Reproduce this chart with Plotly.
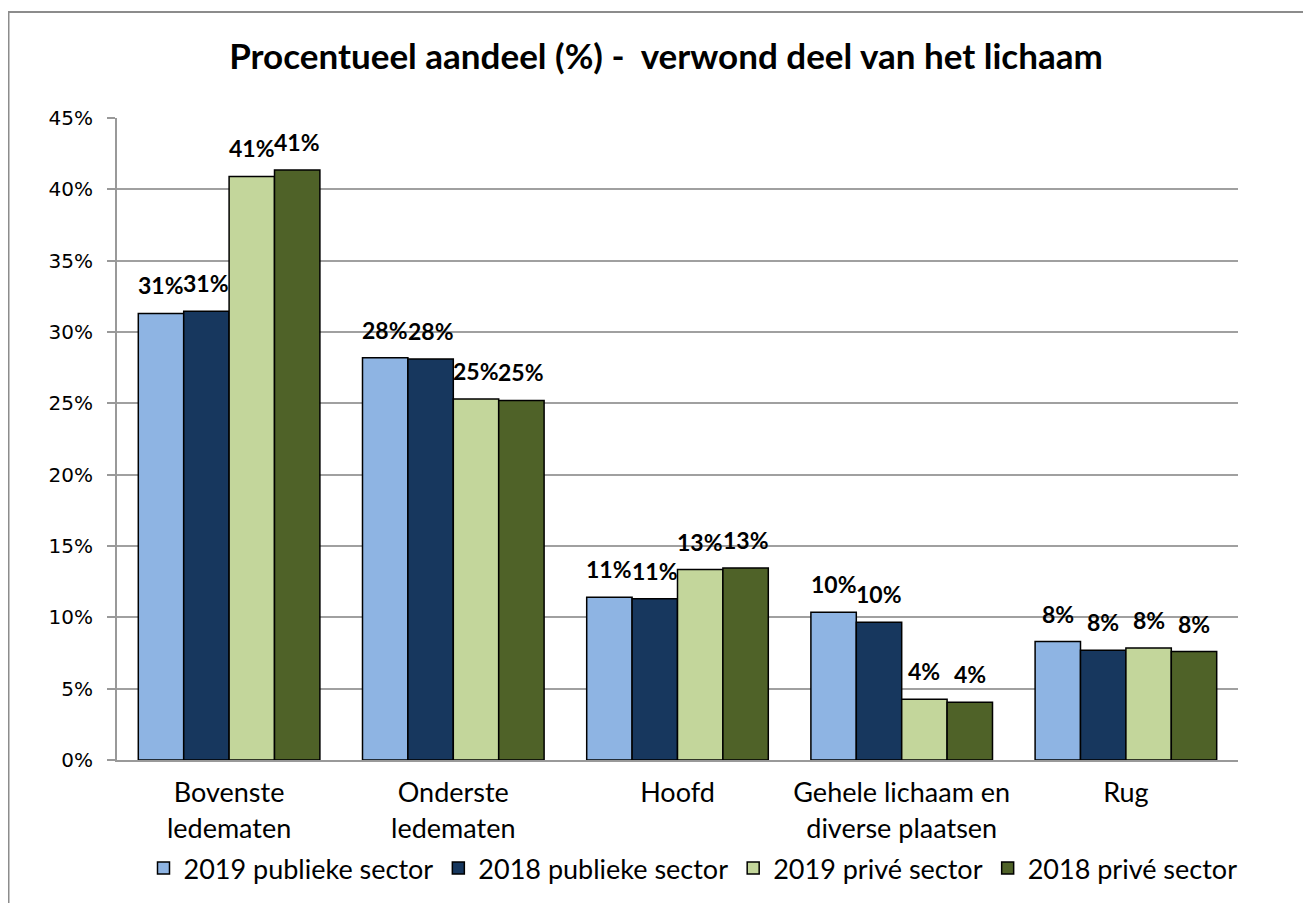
import plotly.graph_objects as go

categories = ["Bovenste<br>ledematen", "Onderste<br>ledematen", "Hoofd",
              "Gehele lichaam en<br>diverse plaatsen", "Rug"]
series_names = ["2019 publieke sector", "2018 publieke sector",
                "2019 privé sector", "2018 privé sector"]
pub_2019 = [31.3, 28.2, 11.4, 10.35, 8.3]
pub_2018 = [31.45, 28.1, 11.3, 9.65, 7.7]
priv_2019 = [40.9, 25.3, 13.35, 4.25, 7.85]
priv_2018 = [41.35, 25.2, 13.45, 4.05, 7.6]
colors = ["#8EB4E3", "#17375E", "#C3D69B", "#4F6228"]
tick_vals = [0, 5, 10, 15, 20, 25, 30, 35, 40, 45]
tick_text = ["0%", "5%", "10%", "15%", "20%", "25%", "30%", "35%", "40%", "45%"]

FONT = "Lato, Open Sans, sans-serif"

# page has 8px body margin; figure coords = page coords - 8
W, H = 1303, 895
L, T = 109, 110
PR, PB = 1230, 752
R, B = W - PR, H - PB
pw, ph = PR - L, PB - T
BARGAP = 0.19

series = [pub_2019, pub_2018, priv_2019, priv_2018]
fig = go.Figure()
for name, vals, col in zip(series_names, series, colors):
    fig.add_trace(go.Bar(
        name=name, x=categories, y=vals,
        marker=dict(color=col, line=dict(color="#000000", width=1.5)),
    ))

# data labels above each bar (offset within the group)
n = len(series)
cat_px = pw / len(categories)
bar_px = cat_px * (1 - BARGAP) / n
annotations = []
for i, vals in enumerate(series):
    shift = (i - (n - 1) / 2) * bar_px
    for c, v in zip(categories, vals):
        annotations.append(dict(
            x=c, y=v, xref="x", yref="y", text=f"<b>{round(v):d}%</b>",
            showarrow=False, xshift=shift, yshift=12, yanchor="bottom",
            font=dict(family=FONT, size=23, color="#000000"),
        ))

fig.update_layout(
    width=W, height=H,
    margin=dict(l=L, r=R, t=T, b=B, autoexpand=False),
    paper_bgcolor="white", plot_bgcolor="white",
    barmode="group", bargap=BARGAP, bargroupgap=0,
    title=dict(text="<b>Procentueel aandeel (%) -  verwond deel van het lichaam</b>",
               x=(666 - 8 - L) / pw, xanchor="center", xref="paper", y=1 - 49 / H, yanchor="middle",
               font=dict(family=FONT, size=35, color="#000000")),
    font=dict(family=FONT, color="#000000"),
    legend=dict(orientation="h", x=(693 - 8 - L) / pw, xanchor="center", y=(PB - 836) / ph, yanchor="top",
                font=dict(family=FONT, size=27, color="#000000"),
                traceorder="normal", itemwidth=30, tracegroupgap=0),
    showlegend=True,
    annotations=annotations,
)
fig.update_xaxes(showline=True, linecolor="#999999", linewidth=2, showgrid=False,
                 ticks="", tickfont=dict(family=FONT, size=27, color="#000000"),
                 ticklabelstandoff=8)
fig.update_yaxes(range=[0, 45], tickvals=tick_vals, ticktext=tick_text,
                 showgrid=True, gridcolor="#A0A0A0", gridwidth=2,
                 showline=True, linecolor="#999999", linewidth=2,
                 ticks="outside", ticklen=8, tickcolor="#999999", tickwidth=2,
                 tickfont=dict(family="DejaVu Sans, Verdana, sans-serif", size=20, color="#000000"),
                 ticklabelstandoff=10, zeroline=False)

# outer chart border (top and left visible)
fig.add_shape(type="rect", xref="paper", yref="paper",
              x0=(0.5 - L) / pw, x1=(W + 20 - L) / pw,
              y0=(PB - H - 20) / ph, y1=(PB - 4) / ph,
              line=dict(color="#8C8C8C", width=2), layer="below")

fig.write_html("out.html")
